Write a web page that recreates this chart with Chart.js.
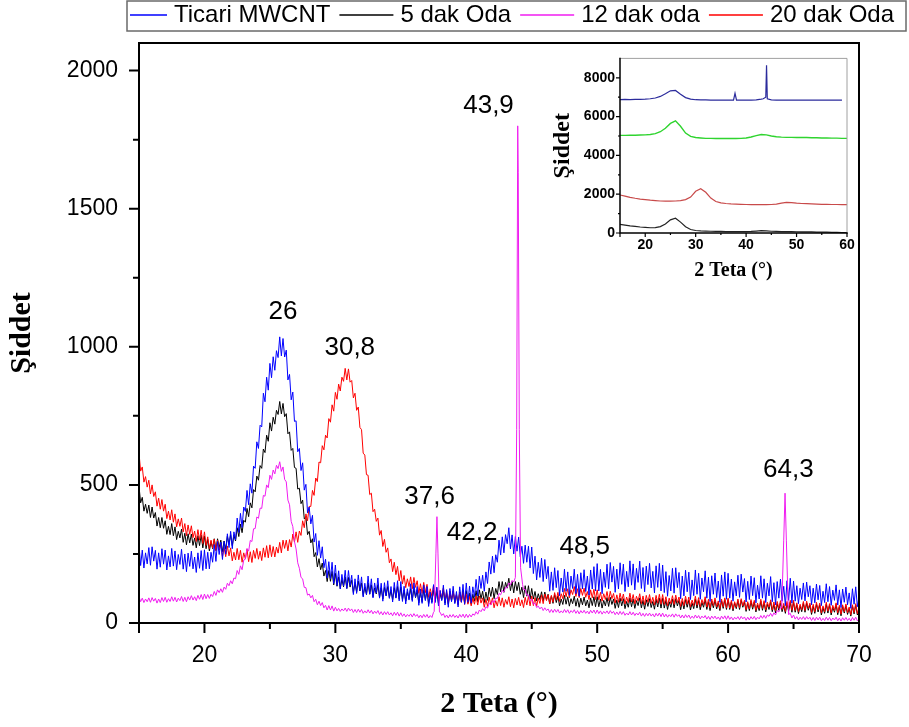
<!DOCTYPE html>
<html><head><meta charset="utf-8">
<script src="https://cdn.jsdelivr.net/npm/chart.js@4.4.0/dist/chart.umd.min.js"></script>
<style>
html,body{margin:0;padding:0;background:#fff;}
#wrap{position:relative;width:909px;height:727px;overflow:hidden;}
#mainBox{position:absolute;left:0;top:0;width:909px;height:727px;}
#insetBox{position:absolute;left:545px;top:45px;width:320px;height:250px;}
</style></head><body>
<div id="wrap">
<div id="mainBox"><canvas id="main"></canvas></div>
<div id="insetBox"><canvas id="inset"></canvas></div>
</div>
<script>
// ---------- main chart: 2 Teta grid 15..70, step 0.125 ----------
const theta = [];
for (let i = 0; i <= 440; i++) theta.push(15 + i * 0.125);

const ticariMWCNT = [
280,208,264,199,254,214,273,209,276,224, 263,195,254,202,269,213,264,192,243,203, 270,206,261,193,248,212,267,195,250,186, 253,205,260,196,239,183,254,198,262,190,
265,196,256,196,256,220,284,223,295,248, 293,230,295,249,323,273,332,269,330,301, 380,328,397,346,420,404,480,428,504,470, 568,560,656,632,716,710,832,801,890,843,
940,888,964,915,986,961,1036,967,1030,963, 988,880,900,808,836,730,732,620,632,552, 580,481,502,399,420,359,390,293,324,245, 298,235,276,200,231,163,222,161,220,143,
210,136,189,123,176,134,191,125,190,136, 173,103,160,107,174,117,167,94,144,103, 170,105,160,91,145,108,163,90,144,79, 146,98,153,89,132,76,147,90,153,80,
150,78,133,69,124,83,142,78,145,93, 132,64,123,71,138,81,132,60,112,71, 139,74,130,62,118,81,137,65,121,57, 125,77,133,70,114,58,131,75,140,68,
145,75,134,72,131,94,158,98,170,125, 173,115,185,143,221,177,242,182,247,220, 300,246,312,254,320,287,345,268,319,250, 313,260,311,240,278,216,282,220,278,199,
275,179,242,156,220,165,235,150,230,160, 205,115,185,118,200,128,190,99,163,112, 195,115,185,100,170,125,195,106,176,97, 182,123,193,114,170,101,192,123,204,116,
215,116,194,106,184,129,213,124,219,148, 205,111,195,123,218,140,213,114,187,131, 225,137,214,120,198,147,224,125,201,113, 206,139,216,127,187,109,207,129,216,116,
210,110,186,97,172,116,198,108,200,128, 183,88,170,98,191,113,184,85,156,99, 192,104,180,86,163,113,189,90,166,78, 171,104,181,92,152,75,174,97,185,86,
180,90,159,79,149,98,173,93,177,112, 161,76,151,85,170,99,164,73,137,87, 171,90,160,74,144,98,168,77,146,66, 150,90,159,79,133,63,153,82,162,72,
152,79,135,70,126,85,145,80,148,95, 135,66,126,73,141,84,136,63,115,74, 142,77,132,64,119,82,138,65,120,56, 123,75,130,66,109,53,124,68,131,59,
95];

const dak5Oda = [
495,435,455,405,430,397,427,382,420,380, 400,351,382,345,382,343,370,321,350,320, 360,316,348,302,332,308,340,292,325,283, 323,290,322,281,308,272,316,280,318,272,
315,269,303,261,295,269,305,264,305,273, 300,258,297,268,314,284,320,280,318,297, 345,313,358,327,372,365,415,385,435,417, 483,475,532,517,570,560,630,617,680,658,
725,695,745,720,770,755,802,757,795,747, 758,685,692,625,632,563,560,485,488,432, 445,377,385,320,332,290,305,240,255,203, 233,193,217,170,190,150,190,151,187,138,
180,133,167,125,158,131,167,125,165,130, 155,110,146,112,152,116,145,99,130,103, 145,104,138,95,127,105,139,93,127,87, 129,99,132,92,119,84,128,92,132,86,
130,85,119,79,113,88,124,83,125,92, 117,73,110,77,119,84,115,70,103,76, 119,79,114,71,105,83,118,72,107,67, 110,80,114,74,102,67,112,77,117,72,
117,72,108,68,104,79,117,77,120,88, 115,74,112,82,127,96,130,88,125,103, 150,113,150,111,147,126,162,117,150,109, 150,117,147,104,130,92,135,97,135,87,
125,87,114,80,106,85,113,79,112,85, 104,69,98,71,103,74,98,62,87,67, 100,68,95,61,88,70,97,61,89,57, 90,66,94,62,83,55,91,63,95,59,
95,59,87,54,82,62,92,60,93,67, 87,53,83,56,90,62,88,52,78,57, 91,59,87,53,81,63,91,55,82,50, 84,60,88,56,78,50,86,58,90,54,
90,54,82,49,77,57,87,55,88,62, 82,48,78,51,85,57,83,47,72,52, 86,54,82,48,75,57,85,49,77,45, 79,55,83,51,73,45,81,53,85,49,
85,49,76,44,72,52,81,49,83,57, 76,42,72,45,79,50,76,40,65,45, 79,46,74,40,68,49,77,41,68,36, 70,46,73,41,63,35,71,43,75,39,
75,39,66,34,62,41,71,39,72,46, 66,31,61,35,68,40,66,29,55,35, 68,36,64,29,57,39,67,30,58,26, 60,36,63,31,53,25,61,33,65,29,
50];

const dak12Oda = [
95,77,90,74,87,77,91,75,92,79, 89,72,87,74,92,78,93,75,88,78, 95,79,93,76,90,81,96,78,93,77, 95,83,99,83,95,81,100,86,103,85,
105,88,103,89,104,96,114,100,120,110, 124,111,130,122,144,135,153,142,163,160, 190,176,207,193,228,231,270,260,299,295, 341,342,384,379,416,415,462,459,500,490,
535,520,554,540,571,559,584,549,565,520, 511,445,428,368,349,295,268,218,198,165, 160,129,128,101,105,91,100,77,86,66, 79,63,74,55,64,47,63,47,62,43,
57,44,53,42,51,44,54,42,54,44, 51,38,49,38,50,39,49,35,44,36, 48,36,46,33,43,35,45,31,41,29, 41,31,41,29,37,26,39,28,39,25,
37,24,33,22,31,24,33,22,34,24, 31,19,29,19,31,21,31,18,27,20, 39,200,380,200,39,27,34,20,29,18, 30,21,31,20,28,18,31,21,32,19,
32,20,31,22,33,28,41,32,47,41, 52,44,59,54,71,66,81,74,90,89, 107,102,118,112,129,128,145,138,154,148, 160,160,1800,1700,200,121,121,100,102,81,
87,68,72,56,61,51,58,45,55,45, 51,38,49,38,50,39,49,36,44,37, 49,38,48,35,45,38,48,35,45,33, 45,36,46,35,43,33,46,36,47,34,
47,34,44,32,42,35,44,33,45,35, 42,30,40,30,42,31,41,28,36,29, 41,29,39,27,36,29,39,25,35,24, 35,26,36,25,33,22,35,25,36,23,
36,22,32,21,30,23,33,21,33,24, 30,18,29,18,30,20,29,16,25,17, 29,18,27,15,25,18,27,14,24,13, 25,16,25,14,22,12,25,15,26,13,
26,13,22,11,21,14,23,12,24,15, 22,10,21,11,23,14,24,12,21,15, 27,17,28,17,29,24,35,24,37,29, 45,40,56,100,300,470,300,31,35,18,
29,14,23,11,21,13,23,12,23,14, 21,9,20,9,21,11,21,8,17,9, 21,10,20,8,18,11,21,8,18,7, 19,10,20,9,17,7,20,10,21,8,
14];
// sharp reflections of the 12 dak oda pattern, read at finer resolution
const dak12PeakX = [37.55,37.68,37.76,37.84,37.95, 43.75,43.85,43.93,43.97,44.05,44.15,44.3, 64.1,64.25,64.35,64.45,64.6];
const dak12PeakY = [42,250,385,250,40, 165,700,1800,1630,700,200,140, 55,300,470,300,45];
const dak12PeakRanges = [[37.55,37.95],[43.75,44.3],[64.1,64.6]];

const dak20Oda = [
615,550,565,510,530,492,517,467,500,458, 475,423,452,412,447,405,430,378,405,373, 410,365,395,348,377,350,380,330,360,316, 355,321,352,309,333,295,338,300,336,288,
330,281,312,269,300,271,304,261,300,264, 286,240,274,240,279,243,272,225,256,228, 270,229,263,220,254,232,267,222,258,219, 263,234,270,231,260,226,272,238,280,236,
283,240,277,239,275,253,292,254,300,270, 300,261,302,275,322,293,330,292,333,317, 370,345,395,370,422,422,480,462,525,512, 583,580,642,627,680,670,740,727,790,767,
835,810,865,840,890,875,922,880,920,872, 878,815,832,770,782,708,700,615,608,537, 535,465,470,403,412,368,380,318,335,277, 303,256,272,218,232,186,220,175,205,152,
190,141,172,128,160,132,167,124,165,129, 153,107,142,107,147,110,140,93,124,96, 137,95,128,84,117,93,127,81,115,74, 116,84,117,76,103,67,111,75,113,67,
105,68,95,62,89,68,98,65,98,72, 91,57,86,60,94,65,91,55,81,61, 95,63,91,57,85,67,95,59,87,55, 89,65,93,62,84,56,93,65,97,62,
98,63,92,61,90,71,102,70,105,81, 102,69,100,75,110,83,111,78,106,88, 125,95,124,91,120,103,132,96,124,92, 125,100,126,93,114,85,120,91,122,85,
120,84,111,79,106,85,114,81,115,88, 107,72,102,75,108,80,105,69,94,74, 108,76,103,69,97,79,106,70,98,66, 100,75,103,71,93,65,100,72,104,68,
103,67,95,62,90,70,99,67,101,74, 94,60,89,63,97,68,94,58,83,63, 97,64,92,58,85,67,95,58,86,54, 87,63,91,58,80,52,87,59,91,54,
90,54,82,50,77,57,87,55,88,62, 82,48,77,51,85,57,82,46,72,52, 86,53,81,47,75,57,84,48,76,44, 78,53,81,49,71,42,78,50,82,46,
82,45,73,41,68,48,78,45,79,53, 72,38,68,41,75,47,72,36,62,41, 75,43,70,36,64,45,73,37,64,32, 66,41,69,37,58,30,66,38,70,34,
55];

const seriesLabels = ['Ticari MWCNT', '5 dak Oda', '12 dak oda', '20 dak Oda'];
const yTickValues = [0, 500, 1000, 1500, 2000];
const yMinorValues = [250, 750, 1250, 1750];
const xTickValues = [20, 30, 40, 50, 60, 70];
const xMajorMarks = [15, 20, 30, 40, 50, 60, 70];
const xMinorValues = [25, 35, 45, 55, 65];

const peakText = ['26', '30,8', '37,6', '42,2', '43,9', '48,5', '64,3'];
const peakLabelX = [26.0, 31.1, 37.2, 40.45, 41.7, 49.05, 64.6];
const peakLabelY = [1127, 996, 457, 326, 1873, 275, 554];

// ---------- inset data: 2 Teta grid 15..60, step 1 ----------
const insetTheta = [];
for (let t = 15; t <= 60; t++) insetTheta.push(t);
const insetTicari = [6880,6885,6880,6890,6890,6900,6920,6960,7040,7180,
7330,7350,7150,6980,6900,6870,6860,6860,6850,6850,
6850,6850,6850,6850,6850,6850,6850,6860,6900,6900,
6860,6850,6850,6850,6850,6850,6850,6850,6850,6850,
6850,6850,6850,6850,6850,null];
const insetTicariPeakX = [37.5,37.8,38.1, 43.4,43.9,44.05,44.2];
const insetTicariPeakY = [6850,7200,6850, 6920,7000,8650,6920];
const insetTicariPeakRanges = [[37.5,38.1],[43.4,44.2]];
const insetGreen = [5030,5030,5040,5040,5050,5060,5080,5120,5220,5400,
5650,5780,5500,5150,4980,4920,4900,4880,4880,4870,
4870,4870,4870,4870,4880,4900,4950,5020,5080,5060,
5000,4960,4940,4930,4930,4920,4920,4920,4910,4910,
4900,4900,4890,4890,4880,4880];
const insetRed = [1960,1900,1840,1790,1750,1720,1690,1670,1650,1640,
1640,1650,1670,1720,1850,2150,2280,2100,1800,1620,
1550,1520,1500,1490,1480,1470,1460,1460,1460,1460,
1470,1490,1540,1580,1570,1540,1520,1510,1500,1490,
1480,1480,1470,1470,1460,1460];
const insetBlack = [450,410,370,340,310,290,270,280,330,460,
680,760,560,320,180,130,110,100,90,85,
80,75,72,70,70,72,80,100,120,110,
90,80,75,70,68,65,62,60,55,50,
45,40,35,30,25,20];
const insetYTicks = [0, 2000, 4000, 6000, 8000];
const insetYMinor = [1000, 3000, 5000, 7000];
const insetXTicks = [20, 30, 40, 50, 60];
const insetXMajorMarks = [15, 20, 30, 40, 50, 60];
const insetXMinor = [25, 35, 45, 55];

// ---------- helpers ----------
function toPoints(xs, ys, peakX, peakY, ranges) {
  const pts = [];
  xs.forEach((x, i) => {
    if (ranges && ranges.some(r => x >= r[0] - 1e-9 && x <= r[1] + 1e-9)) return;
    pts.push({x: x, y: ys[i]});
  });
  if (peakX) peakX.forEach((x, i) => pts.push({x: x, y: peakY[i]}));
  pts.sort((a, b) => a.x - b.x);
  return pts;
}
const lenErr = [ticariMWCNT, dak5Oda, dak12Oda, dak20Oda].some(a => a.length !== theta.length);

const SANS = "'Liberation Sans', Arial, sans-serif";
const SERIF = "'Liberation Serif', 'Times New Roman', serif";

const frameTicks = {
  id: 'frameTicks',
  afterDraw(chart, args, o) {
    const {ctx, chartArea: a} = chart;
    const xs = chart.scales.x, ys = chart.scales.y;
    ctx.save();
    ctx.lineCap = 'square';
    ctx.strokeStyle = o.frameColor; ctx.lineWidth = o.frameWidth;
    ctx.beginPath(); ctx.moveTo(a.left, a.top); ctx.lineTo(a.right, a.top); ctx.lineTo(a.right, a.bottom); ctx.stroke();
    ctx.strokeStyle = o.axisColor; ctx.lineWidth = o.axisWidth;
    ctx.beginPath(); ctx.moveTo(a.left, a.top); ctx.lineTo(a.left, a.bottom); ctx.lineTo(a.right, a.bottom); ctx.stroke();
    ctx.lineCap = 'butt';
    ctx.lineWidth = o.tickWidth;
    ctx.beginPath();
    o.xMajor.forEach(v => { const p = xs.getPixelForValue(v); ctx.moveTo(p, a.bottom); ctx.lineTo(p, a.bottom + o.majorLen); });
    o.xMinor.forEach(v => { const p = xs.getPixelForValue(v); ctx.moveTo(p, a.bottom); ctx.lineTo(p, a.bottom + o.minorLen); });
    o.yMajor.forEach(v => { const p = ys.getPixelForValue(v); ctx.moveTo(a.left, p); ctx.lineTo(a.left - o.majorLen, p); });
    o.yMinor.forEach(v => { const p = ys.getPixelForValue(v); ctx.moveTo(a.left, p); ctx.lineTo(a.left - o.minorLen, p); });
    ctx.stroke();
    if (o.debug && lenErr) { ctx.fillStyle = 'red'; ctx.font = '20px sans-serif'; ctx.fillText('LEN ERR', 300, 300); }
    ctx.restore();
  }
};

const boxLegend = {
  id: 'boxLegend',
  afterDraw(chart, args, o) {
    const {ctx} = chart;
    ctx.save();
    ctx.font = o.font;
    ctx.textBaseline = 'middle';
    ctx.textAlign = 'left';
    let x = o.x0;
    chart.data.datasets.forEach((ds, i) => {
      ctx.strokeStyle = ds.borderColor; ctx.lineWidth = 1.3;
      ctx.beginPath(); ctx.moveTo(x, o.y); ctx.lineTo(x + o.lineLen[i], o.y); ctx.stroke();
      x += o.lineLen[i] + o.gap;
      ctx.fillStyle = '#000';
      ctx.fillText(ds.label, x, o.y);
      x += ctx.measureText(ds.label).width + o.itemGap;
    });
    ctx.strokeStyle = '#6a6a6a'; ctx.lineWidth = 1.5;
    ctx.strokeRect(o.box[0], o.box[1], o.box[2] - o.box[0], o.box[3] - o.box[1]);
    ctx.restore();
  }
};

const peakLabels = {
  id: 'peakLabels',
  afterDatasetsDraw(chart, args, o) {
    const {ctx} = chart;
    const xs = chart.scales.x, ys = chart.scales.y;
    ctx.save();
    ctx.font = o.font; ctx.fillStyle = '#000';
    ctx.textAlign = 'center'; ctx.textBaseline = 'middle';
    peakText.forEach((t, i) => ctx.fillText(t, xs.getPixelForValue(peakLabelX[i]), ys.getPixelForValue(peakLabelY[i])));
    ctx.restore();
  }
};

function lineDs(label, pts, color, order, width) {
  return {label: label, data: pts, borderColor: color, backgroundColor: color,
    borderWidth: width, pointRadius: 0, tension: 0, fill: false, order: order};
}
const fixTicks = vals => s => { s.ticks = vals.map(v => ({value: v})); };
const plainLabel = v => String(v);

new Chart(document.getElementById('main'), {
  type: 'line',
  data: {datasets: [
    lineDs(seriesLabels[0], toPoints(theta, ticariMWCNT), '#0000ff', 1, 1),
    lineDs(seriesLabels[1], toPoints(theta, dak5Oda), '#000000', 3, 1),
    lineDs(seriesLabels[2], toPoints(theta, dak12Oda, dak12PeakX, dak12PeakY, dak12PeakRanges), '#f01cf0', 0, 1),
    lineDs(seriesLabels[3], toPoints(theta, dak20Oda), '#ff0000', 2, 1)
  ]},
  options: {
    responsive: true, maintainAspectRatio: false, animation: false,
    layout: {padding: {top: 43, right: 50, left: 0, bottom: 0}},
    plugins: {
      legend: {display: false}, tooltip: {enabled: false},
      frameTicks: {frameColor: '#000', frameWidth: 2, axisColor: '#000', axisWidth: 2, tickWidth: 2,
        majorLen: 10, minorLen: 6, xMajor: xMajorMarks, xMinor: xMinorValues, yMajor: yTickValues, yMinor: yMinorValues, debug: true},
      boxLegend: {font: '24px ' + SANS, x0: 130, y: 15, lineLen: [37, 54, 54, 54], gap: 7, itemGap: 9, box: [127, 1, 906, 31]},
      peakLabels: {font: '26px ' + SANS}
    },
    scales: {
      x: {type: 'linear', min: 15, max: 70, afterBuildTicks: fixTicks(xTickValues),
        ticks: {color: '#000', font: {family: SANS, size: 23}, padding: 19, maxRotation: 0, callback: plainLabel},
        grid: {display: true, drawOnChartArea: false, drawTicks: false, color: 'rgba(0,0,0,0)'},
        border: {display: false},
        title: {display: true, text: '2 Teta (°)', color: '#000', font: {family: SERIF, size: 30, weight: 'bold'}, padding: {top: 0, bottom: 5}},
        afterFit: s => { s.height = 104; }
      },
      y: {type: 'linear', min: 0, max: 2100, afterBuildTicks: fixTicks(yTickValues),
        ticks: {color: '#000', font: {family: SANS, size: 23}, padding: 21, callback: plainLabel},
        grid: {display: true, drawOnChartArea: false, drawTicks: false, color: 'rgba(0,0,0,0)'},
        border: {display: false},
        title: {display: true, text: 'Şiddet', color: '#000', font: {family: SERIF, size: 30, weight: 'bold'}, padding: {top: 4, bottom: 0}},
        afterFit: s => { s.width = 139; }
      }
    }
  },
  plugins: [frameTicks, boxLegend, peakLabels]
});

new Chart(document.getElementById('inset'), {
  type: 'line',
  data: {datasets: [
    lineDs('Ticari MWCNT', toPoints(insetTheta, insetTicari, insetTicariPeakX, insetTicariPeakY, insetTicariPeakRanges), '#2b2b9c', 0, 1.2),
    lineDs('Yeşil', toPoints(insetTheta, insetGreen), '#2fd42f', 1, 1.4),
    lineDs('Kırmızı', toPoints(insetTheta, insetRed), '#c84a4a', 2, 1.2),
    lineDs('Siyah', toPoints(insetTheta, insetBlack), '#222222', 3, 1.2)
  ]},
  options: {
    responsive: true, maintainAspectRatio: false, animation: false,
    layout: {padding: {top: 10, right: 18, left: 0, bottom: 0}},
    plugins: {
      legend: {display: false}, tooltip: {enabled: false},
      frameTicks: {frameColor: '#a0a0a0', frameWidth: 1, axisColor: '#000', axisWidth: 1.5, tickWidth: 1.2,
        majorLen: 4, minorLen: 2, xMajor: insetXMajorMarks, xMinor: insetXMinor, yMajor: insetYTicks, yMinor: insetYMinor}
    },
    scales: {
      x: {type: 'linear', min: 15, max: 60, afterBuildTicks: fixTicks(insetXTicks),
        ticks: {color: '#000', font: {family: SANS, size: 14, weight: 'bold'}, padding: 4, maxRotation: 0, callback: plainLabel},
        grid: {display: true, drawOnChartArea: false, drawTicks: false, color: 'rgba(0,0,0,0)'},
        border: {display: false},
        title: {display: true, text: '2 Teta (°)', color: '#000', font: {family: SERIF, size: 20, weight: 'bold'}, padding: {top: 0, bottom: 12}},
        afterFit: s => { s.height = 62; }
      },
      y: {type: 'linear', min: 0, max: 9000, afterBuildTicks: fixTicks(insetYTicks),
        ticks: {color: '#000', font: {family: SANS, size: 14, weight: 'bold'}, padding: 5, callback: plainLabel},
        grid: {display: true, drawOnChartArea: false, drawTicks: false, color: 'rgba(0,0,0,0)'},
        border: {display: false},
        title: {display: true, text: 'Şiddet', color: '#000', font: {family: SERIF, size: 24, weight: 'bold'}, padding: {top: 3, bottom: 0}},
        afterFit: s => { s.width = 75; }
      }
    }
  },
  plugins: [frameTicks]
});
</script>
</body></html>
